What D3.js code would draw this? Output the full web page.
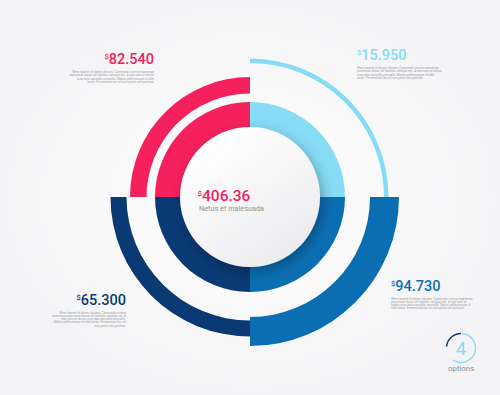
<!DOCTYPE html>
<html>
<head>
<meta charset="utf-8">
<script src="https://cdn.jsdelivr.net/npm/d3@7"></script>
<style>
  html, body { margin: 0; padding: 0; background: #f9f9fa; }
  #chart { width: 500px; height: 395px; }
  text { font-family: Roboto, "Open Sans", sans-serif; }
</style>
</head>
<body>
<div id="chart"></div>
<script>
// Chart data
var categories = ["red", "sky", "blue", "navy"];
var values = [82.540, 15.950, 94.730, 65.300];
var centerValue = 406.36;
var centerLabel = "Netus et malesuada";
var optionCount = 4;
var optionLabel = "options";
var loremLines = [
  ["Wem laoreet id donec ultrices. Commodo viverra maecenas",
   "accumsan lacus vel facilisis volutpat est. A erat nam at lectus",
   "urna duis convallis convallis. Mattis pellentesque id nibh",
   "tortor. Fermentum leo vel orci porta non pulvinar."],
  ["Wem laoreet id donec ultrices. Commodo viverra maecenas",
   "accumsan lacus vel facilisis volutpat est. A erat nam at lectus",
   "urna duis convallis convallis. Mattis pellentesque id nibh",
   "tortor. Fermentum leo vel orci porta non pulvinar."],
  ["Wem laoreet id donec ultrices. Commodo viverra maecenas",
   "accumsan lacus vel facilisis volutpat est. A erat nam at",
   "lectus urna duis convallis convallis. Mattis pellentesque id",
   "nibh tortor. Fermentum leo vel orci porta non pulvinar."],
  ["Wem laoreet id donec ultrices. Commodo viverra",
   "maecenas accumsan lacus vel facilisis volutpat est. A",
   "erat nam at lectus urna duis convallis convallis.",
   "Mattis pellentesque id nibh tortor. Fermentum leo vel",
   "orci porta non pulvinar."]
];

(function () {
  "use strict";

  ////////////////////////////////////////////////////////////////////////////////
  //
  // Layout and styles
  //
  var w = 500, h = 395;
  var cx = 250, cy = 197;
  var colors = { red: "#f5205c", sky: "#86dbf5", blue: "#0b6eb2", navy: "#0a3a73" };
  var textGray = "#9a9ea7";

  // radius band of each outer arc (same order as categories)
  var outerBands = [[103.5, 120], [134, 138.5], [120, 149], [123.5, 139.5]];

  // label anchor per category: x, baseline y, text-anchor
  var labelPos = [
    { x: 154, y: 64, anchor: "end" },
    { x: 357, y: 60, anchor: "start" },
    { x: 391, y: 290.5, anchor: "start" },
    { x: 126, y: 304.5, anchor: "end" }
  ];

  var svg = d3.select("#chart").append("svg")
    .attr("width", w)
    .attr("height", h);

  var defs = svg.append("defs");

  var bg = defs.append("radialGradient").attr("id", "bg-grad");
  bg.append("stop").attr("offset", "0%").attr("stop-color", "#ffffff");
  bg.append("stop").attr("offset", "100%").attr("stop-color", "#f4f4f6");

  var disc = defs.append("linearGradient").attr("id", "disc-grad")
    .attr("x1", "20%").attr("y1", "10%").attr("x2", "80%").attr("y2", "95%");
  disc.append("stop").attr("offset", "0%").attr("stop-color", "#ffffff");
  disc.append("stop").attr("offset", "100%").attr("stop-color", "#ebebee");

  var shadow = defs.append("filter").attr("id", "disc-shadow")
    .attr("x", "-30%").attr("y", "-30%").attr("width", "160%").attr("height", "160%");
  shadow.append("feDropShadow")
    .attr("dx", 3).attr("dy", 4).attr("stdDeviation", 6)
    .attr("flood-color", "#000").attr("flood-opacity", 0.28);

  svg.append("rect")
    .attr("width", w).attr("height", h)
    .attr("fill", "url(#bg-grad)");

  ////////////////////////////////////////////////////////////////////////////////
  //
  // Scales
  //
  var angle = d3.scaleBand()
    .domain(categories)
    .range([-Math.PI / 2, Math.PI * 1.5])
    .paddingInner(0);

  var fmt = d3.format(".3f");

  var g = svg.append("g").attr("transform", "translate(" + cx + "," + cy + ")");

  ////////////////////////////////////////////////////////////////////////////////
  //
  // Outer arcs
  //
  g.selectAll(".outer-arc")
    .data(categories)
    .enter()
    .append("path")
    .attr("class", "outer-arc")
    .attr("fill", function (d) { return colors[d]; })
    .attr("d", function (d, i) {
      return d3.arc()
        .innerRadius(outerBands[i][0])
        .outerRadius(outerBands[i][1])
        .startAngle(angle(d))
        .endAngle(angle(d) + angle.bandwidth())();
    });

  ////////////////////////////////////////////////////////////////////////////////
  //
  // Inner ring and center disc
  //
  var innerArc = d3.arc().innerRadius(60).outerRadius(95);

  g.selectAll(".inner-arc")
    .data(categories)
    .enter()
    .append("path")
    .attr("class", "inner-arc")
    .attr("fill", function (d) { return colors[d]; })
    .attr("d", function (d) {
      return innerArc({ startAngle: angle(d), endAngle: angle(d) + angle.bandwidth() });
    });

  g.append("circle")
    .attr("r", 70)
    .attr("fill", "url(#disc-grad)")
    .attr("filter", "url(#disc-shadow)");

  // center text
  var ct = svg.append("text")
    .attr("x", 197.5).attr("y", 201)
    .attr("fill", colors.red)
    .attr("font-size", 15.5)
    .attr("font-weight", 500);
  ct.append("tspan").attr("font-size", 8).attr("dy", -5).text("$");
  ct.append("tspan").attr("dy", 5).text(d3.format(".2f")(centerValue));

  svg.append("text")
    .attr("x", 199).attr("y", 210.5)
    .attr("fill", "#8e929b")
    .attr("font-size", 7.3)
    .text(centerLabel);

  ////////////////////////////////////////////////////////////////////////////////
  //
  // Value labels with description text
  //
  categories.forEach(function (c, i) {
    var p = labelPos[i];
    var t = svg.append("text")
      .attr("x", p.x).attr("y", p.y)
      .attr("text-anchor", p.anchor)
      .attr("fill", colors[c])
      .attr("font-size", 14.5)
      .attr("font-weight", 500);
    t.append("tspan").attr("font-size", 7.5).attr("dy", -5).text("$");
    t.append("tspan").attr("dy", 5).text(fmt(values[i]));

    svg.append("g")
      .selectAll("text")
      .data(loremLines[i])
      .enter()
      .append("text")
      .attr("x", p.x)
      .attr("y", function (d, j) { return p.y + 9 + j * 3.3; })
      .attr("text-anchor", p.anchor)
      .attr("fill", textGray)
      .attr("font-size", 3.1)
      .text(function (d) { return d; });
  });

  ////////////////////////////////////////////////////////////////////////////////
  //
  // Options badge
  //
  var badge = svg.append("g").attr("transform", "translate(461,348)");
  var ringArc = d3.arc().innerRadius(13.8).outerRadius(15.2);
  badge.append("path")
    .attr("fill", colors.navy)
    .attr("d", ringArc({ startAngle: -Math.PI * 0.47, endAngle: 0 }));
  badge.append("path")
    .attr("fill", colors.sky)
    .attr("d", ringArc({ startAngle: 0.06, endAngle: Math.PI * 1.2 }));
  badge.append("text")
    .attr("y", 6.5)
    .attr("text-anchor", "middle")
    .attr("fill", colors.sky)
    .attr("font-size", 18)
    .text(optionCount);
  badge.append("text")
    .attr("y", 22.5)
    .attr("text-anchor", "middle")
    .attr("fill", "#8b8f99")
    .attr("font-size", 7.8)
    .text(optionLabel);
})();
</script>
</body>
</html>
